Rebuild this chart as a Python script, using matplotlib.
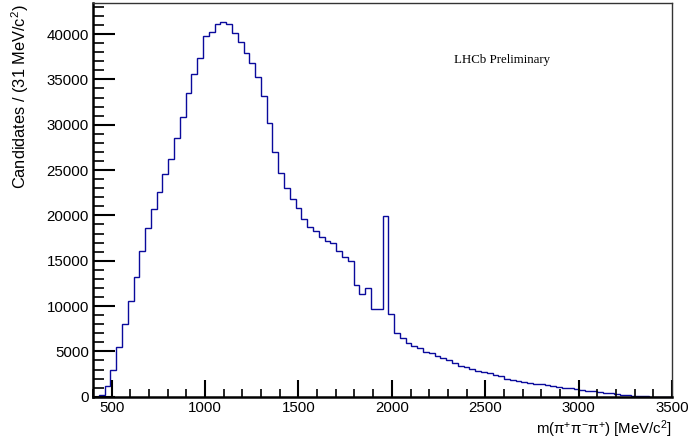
import numpy as np
import matplotlib
matplotlib.use("Agg")
import matplotlib.pyplot as plt
from matplotlib.ticker import MultipleLocator

# ---- data ----
bin_start = 400
bin_width = 31
n_bins = 100
counts = [
    0, 180, 1180, 2940, 5440, 8010, 10510, 13230, 16030, 18640,
    20660, 22530, 24590, 26250, 28530, 30800, 33450, 35580, 37310, 39770,
    40250, 41060, 41360, 41100, 40140, 39150, 37860, 36760, 35290, 33190,
    30140, 27020, 24630, 22980, 21760, 20810, 19640, 18720, 18240, 17610,
    17140, 16950, 16070, 15370, 15000, 12320, 11290, 12020, 9670, 9670,
    19900, 9090, 7060, 6440, 5960, 5550, 5410, 4960, 4790, 4460,
    4240, 4010, 3680, 3420, 3240, 3060, 2840, 2690, 2580, 2360,
    2250, 1990, 1880, 1770, 1650, 1540, 1450, 1350, 1260, 1170,
    1080, 1000, 910, 830, 740, 660, 580, 500, 430, 360,
    290, 220, 160, 110, 60, 30, 10, 0, 0, 0,
]
x_label = r"m($\mathregular{\pi^{+}\pi^{-}\pi^{+}}$) [MeV/$\mathregular{c^{2}}$]"
y_label = r"Candidates / (31 MeV/$\mathregular{c^{2}}$)"
annotation = "LHCb Preliminary"

plt.rcParams['font.family'] = ['Liberation Sans', 'DejaVu Sans']
plt.rcParams['mathtext.fontset'] = 'custom'
plt.rcParams['mathtext.rm'] = 'Liberation Sans'
plt.rcParams['mathtext.it'] = 'Liberation Sans:italic'

W, H = 691, 443
fig = plt.figure(figsize=(W / 100, H / 100), dpi=100)
ax = fig.add_axes([93 / W, (H - 396.7) / H, 579 / W, (396.7 - 2.7) / H])

edges = bin_start + bin_width * np.arange(n_bins + 1)
ax.stairs(counts, edges, color='#0a0a9c', linewidth=1.0, baseline=0)

ax.set_xlim(edges[0], edges[-1])
ax.set_ylim(0, 43460)

ax.xaxis.set_major_locator(MultipleLocator(500))
ax.xaxis.set_minor_locator(MultipleLocator(100))
ax.yaxis.set_major_locator(MultipleLocator(5000))
ax.yaxis.set_minor_locator(MultipleLocator(1000))

ax.tick_params(axis='x', which='major', direction='in', length=12, width=1.5, labelsize=10.8, pad=3)
ax.tick_params(axis='x', which='minor', direction='in', length=6, width=1.2)
ax.tick_params(axis='y', which='major', direction='in', length=16, width=1.5, labelsize=10.8, pad=3)
ax.tick_params(axis='y', which='minor', direction='in', length=8, width=1.2)
ax.tick_params(top=False, right=False, which='both')

for s in ['left', 'bottom']:
    ax.spines[s].set_linewidth(1.8)
    ax.spines[s].set_color('black')
for s in ['top', 'right']:
    ax.spines[s].set_linewidth(1.0)
    ax.spines[s].set_color('#333333')

fig.text(672 / W, 1 - 429 / H, x_label, ha='right', va='center', fontsize=10.8)
fig.text(20 / W, 1 - 4 / H, y_label, ha='center', va='top', rotation=90, fontsize=11.8)
fig.text(502 / W, 1 - 60 / H, annotation, ha='center', va='center', fontsize=9.3,
         family=['Liberation Serif', 'DejaVu Serif'])

fig.savefig('out.png', dpi=100)
